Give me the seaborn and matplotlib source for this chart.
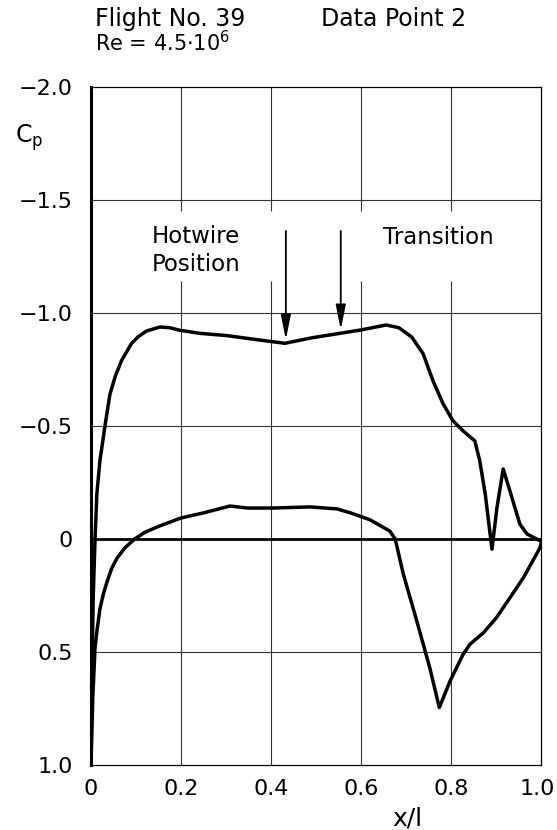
import numpy as np
import pandas as pd
import matplotlib
matplotlib.use("Agg")
import matplotlib.pyplot as plt
import matplotlib.transforms as mtransforms
import seaborn as sns

# Pressure distribution, flight no. 39, data point 2
upper_x = [0.0, 0.002, 0.005, 0.009, 0.013, 0.020, 0.026, 0.031, 0.042, 0.054,
           0.068, 0.090, 0.105, 0.123, 0.153, 0.175, 0.196, 0.242, 0.302, 0.376,
           0.431, 0.490, 0.553, 0.600, 0.656, 0.684, 0.713, 0.738, 0.760, 0.782,
           0.804, 0.827, 0.853, 0.864, 0.876, 0.891, 0.902, 0.916, 0.931, 0.953,
           0.969, 1.0]
upper_cp = [1.0, 0.60, 0.25, 0.0, -0.20, -0.35, -0.43, -0.50, -0.64, -0.72,
            -0.79, -0.865, -0.895, -0.92, -0.938, -0.935, -0.924, -0.91, -0.90, -0.88,
            -0.866, -0.89, -0.91, -0.925, -0.947, -0.935, -0.893, -0.82, -0.70, -0.60,
            -0.524, -0.478, -0.434, -0.345, -0.20, 0.045, -0.137, -0.31, -0.212, -0.066,
            -0.022, 0.01]

lower_x = [0.0, 0.004, 0.009, 0.013, 0.020, 0.028, 0.036, 0.046, 0.058, 0.075,
           0.097, 0.120, 0.153, 0.200, 0.249, 0.309, 0.347, 0.404, 0.487, 0.547,
           0.576, 0.620, 0.664, 0.676, 0.694, 0.724, 0.753, 0.774, 0.798, 0.827,
           0.842, 0.872, 0.901, 0.931, 0.961, 0.998, 1.0]
lower_cp = [1.0, 0.70, 0.48, 0.41, 0.307, 0.24, 0.187, 0.13, 0.084, 0.04,
            0.0, -0.03, -0.058, -0.093, -0.115, -0.146, -0.137, -0.137, -0.142, -0.133,
            -0.116, -0.085, -0.035, 0.0, 0.155, 0.363, 0.571, 0.746, 0.628, 0.51,
            0.466, 0.415, 0.348, 0.26, 0.171, 0.038, 0.02]

# Hot-wire probe stations on the upper surface
hotwire_x = [0.433, 0.555]

x_ticks = [0.0, 0.2, 0.4, 0.6, 0.8, 1.0]
x_tick_labels = ["0", "0.2", "0.4", "0.6", "0.8", "1.0"]
cp_ticks = [-2.0, -1.5, -1.0, -0.5, 0.0, 0.5, 1.0]
cp_tick_labels = ["\u22122.0", "\u22121.5", "\u22121.0", "\u22120.5", "0", "0.5", "1.0"]

upper = pd.DataFrame({"x": upper_x, "cp": upper_cp})
lower = pd.DataFrame({"x": lower_x, "cp": lower_cp})

sns.set_style("white")
plt.rcParams["font.family"] = ["DejaVu Sans"]
plt.rcParams["text.color"] = "black"
plt.rcParams["axes.labelcolor"] = "black"
plt.rcParams["xtick.color"] = "black"
plt.rcParams["ytick.color"] = "black"

W, H = 557, 830
fig = plt.figure(figsize=(W / 100, H / 100), dpi=100)
left, right, top, bottom = 91, 541, 87, 765
ax = fig.add_axes([left / W, 1 - bottom / H, (right - left) / W, (bottom - top) / H])

ax.set_xlim(0, 1.0)
ax.set_ylim(1.0, -2.0)

# grid: horizontal lines full width, vertical lines broken around the annotations
grid_kw = dict(color="#333333", lw=0.8, zorder=1)
for c in [-1.5, -1.0, -0.5, 0.5]:
    ax.axhline(c, **grid_kw)
for xv in x_ticks[1:-1]:
    ax.vlines(xv, -2.0, -1.45, **grid_kw)
    ax.vlines(xv, -1.14, 1.0, **grid_kw)
ax.axhline(0.0, color="black", lw=2.0, zorder=2)

sns.lineplot(data=upper, x="x", y="cp", sort=False, estimator=None,
             color="black", lw=2.5, ax=ax, zorder=3)
sns.lineplot(data=lower, x="x", y="cp", sort=False, estimator=None,
             color="black", lw=2.5, ax=ax, zorder=3)

# arrows pointing to the probe stations on the upper curve
for xh in hotwire_x:
    tip = np.interp(xh, upper_x, upper_cp) - 0.015
    ax.annotate("", xy=(xh, tip), xytext=(xh, -1.363),
                arrowprops=dict(arrowstyle="-|>,head_length=0.75,head_width=0.15",
                                mutation_scale=20, lw=1.3, color="black",
                                shrinkA=0, shrinkB=0),
                zorder=4)

txt_kw = dict(fontsize=16.5, ha="left", va="baseline", color="black")
ax.text(0.136, -1.31, "Hotwire", **txt_kw)
ax.text(0.136, -1.186, "Position", **txt_kw)
ax.text(0.649, -1.305, "Transition", **txt_kw)

ax.set_xticks(x_ticks)
ax.set_xticklabels(x_tick_labels)
ax.set_yticks(cp_ticks)
ax.set_yticklabels(cp_tick_labels)
ax.tick_params(axis="both", length=0, labelsize=16, colors="black")
ax.tick_params(axis="y", pad=13)
ax.tick_params(axis="x", pad=10)
ax.set_xlabel("")
ax.set_ylabel("")

# nudge the last x label so it stays inside the canvas
last = ax.get_xticklabels()[-1]
last.set_transform(last.get_transform()
                   + mtransforms.ScaledTranslation(-3 / 72, 0, fig.dpi_scale_trans))

for name, sp in ax.spines.items():
    sp.set_visible(True)
    sp.set_color("black")
    sp.set_linewidth(0.9)
ax.spines["left"].set_linewidth(2.2)

# header and axis titles
fig.text(95 / W, 1 - 26 / H, "Flight No. 39", fontsize=17, ha="left", va="baseline")
fig.text(321 / W, 1 - 26 / H, "Data Point 2", fontsize=17, ha="left", va="baseline")
fig.text(95 / W, 1 - 51 / H, r"Re = 4.5$\cdot$10$^{6}$", fontsize=15,
         ha="left", va="baseline")
fig.text(15 / W, 1 - 143 / H, r"C$_\mathregular{p}$", fontsize=17, ha="left", va="baseline")
fig.text(407 / W, 1 - 825 / H, "x/l", fontsize=18, ha="center", va="baseline")

fig.savefig("out.png", dpi=100, facecolor="white")
